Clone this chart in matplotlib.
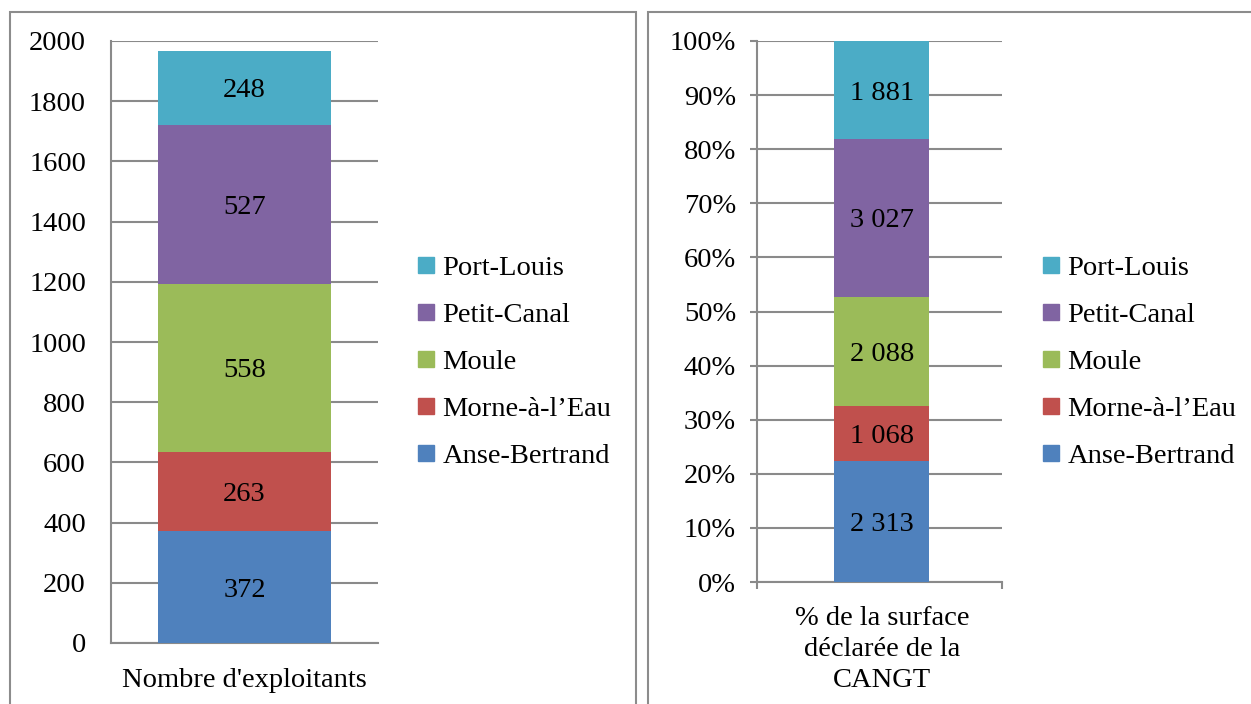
import matplotlib.pyplot as plt
from matplotlib.lines import Line2D
from matplotlib.patches import Rectangle

plt.rcParams['font.family'] = ['Liberation Serif', 'DejaVu Serif']

communes = ['Anse-Bertrand', 'Morne-à-l\u2019Eau', 'Moule', 'Petit-Canal', 'Port-Louis']
colors = ['#4F81BD', '#C0504D', '#9BBB59', '#8064A2', '#4BACC6']

exploitants = [372, 263, 558, 527, 248]
surface = [2313, 1068, 2088, 3027, 1881]
surface_labels = ['2 313', '1 068', '2 088', '3 027', '1 881']

left_cat = "Nombre d'exploitants"
right_cat = '% de la surface\ndéclarée de la\nCANGT'

W, H = 1251, 704
fig = plt.figure(figsize=(12.51, 7.04), dpi=100)

# panel frames
fig.add_artist(Rectangle((10 / W, -0.05), 626 / W, 1.05 - 12 / H, transform=fig.transFigure,
                         fill=False, edgecolor='#8c8c8c', lw=1.5))
fig.add_artist(Rectangle((648 / W, -0.05), 700 / W, 1.05 - 12 / H, transform=fig.transFigure,
                         fill=False, edgecolor='#8c8c8c', lw=1.5))

grid_c = '#8a8a8a'
fs = 20.5


def style(ax):
    for s in ['top', 'right']:
        ax.spines[s].set_visible(False)
    for s in ['left', 'bottom']:
        ax.spines[s].set_color(grid_c)
        ax.spines[s].set_linewidth(1.5)
    ax.yaxis.grid(True, color=grid_c, lw=1.5)
    ax.set_axisbelow(True)


# ---- left chart: counts
ax1 = fig.add_axes([111 / W, 1 - 643 / H, 267 / W, 602 / H])
style(ax1)
bottom = 0
for v, c in zip(exploitants, colors):
    ax1.bar(0, v, width=0.648, bottom=bottom, color=c, zorder=3)
    ax1.text(0, bottom + v / 2, str(v), ha='center', va='center_baseline', fontsize=fs, zorder=4)
    bottom += v
ax1.set_xlim(-0.5, 0.5)
ax1.set_ylim(0, 2000)
ax1.set_yticks(range(0, 2001, 200))
ax1.set_xticks([0])
ax1.set_xticklabels([left_cat])
ax1.tick_params(axis='both', length=0, labelsize=fs)
ax1.tick_params(axis='y', pad=18)
ax1.tick_params(axis='x', pad=18)

# ---- right chart: share of surface
total = sum(surface)
ax2 = fig.add_axes([757 / W, 1 - 582 / H, 245 / W, 541 / H])
style(ax2)
bottom = 0
for v, lab, c in zip(surface, surface_labels, colors):
    p = v / total * 100
    ax2.bar(0, p, width=0.396, bottom=bottom, color=c, zorder=3)
    ax2.text(0, bottom + p / 2, lab, ha='center', va='center_baseline', fontsize=fs, zorder=4)
    bottom += p
ax2.set_xlim(-0.52, 0.5)
ax2.set_ylim(0, 100)
ax2.set_yticks(range(0, 101, 10))
ax2.set_yticklabels([f'{t}%' for t in range(0, 101, 10)])
ax2.set_xticks([0])
ax2.set_xticklabels([right_cat], linespacing=1.33)
ax2.set_xticks([-0.52, 0.5], minor=True)
ax2.tick_params(axis='x', which='major', length=0, labelsize=fs, pad=17)
ax2.tick_params(axis='x', which='minor', length=5, width=1.5, color=grid_c, direction='out')
ax2.tick_params(axis='y', length=5, width=1.5, color=grid_c, labelsize=fs, pad=10)

# ---- legends
handles = [Line2D([], [], marker='s', ls='none', color=c, markersize=11) for c in colors][::-1]
labels = communes[::-1]
for x0 in [417 / W, 1042 / W]:
    fig.legend(handles, labels, loc='center left', bbox_to_anchor=(x0, 1 - 362 / H),
               frameon=False, fontsize=fs, labelspacing=0.74, handlelength=0.6,
               handletextpad=0.3, borderpad=0, borderaxespad=0)

fig.savefig('out.png', dpi=100)
